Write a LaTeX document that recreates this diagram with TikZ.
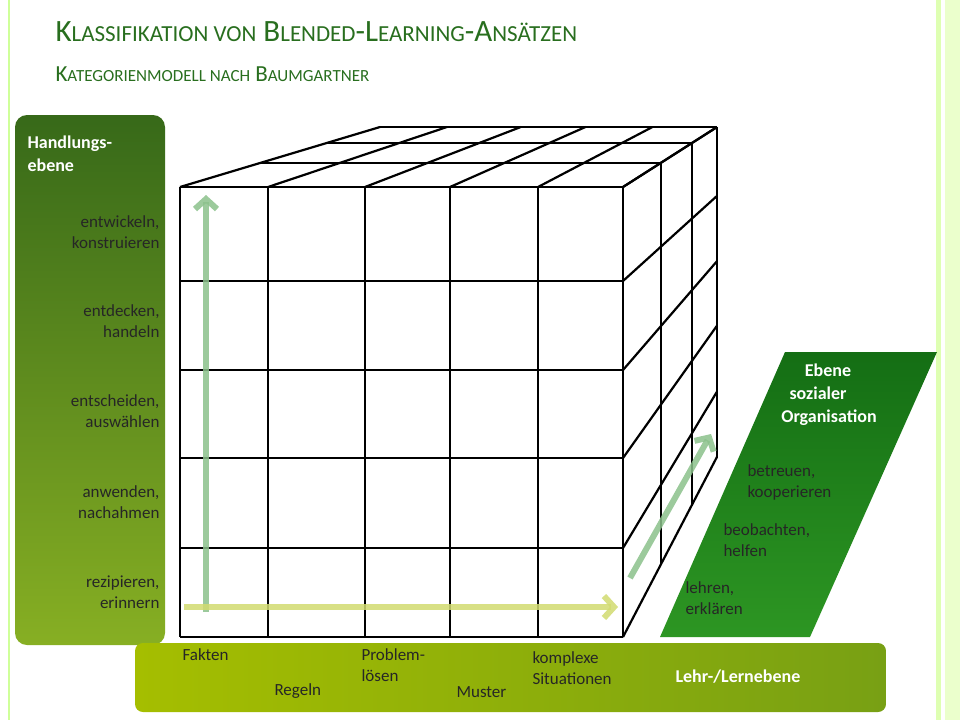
\documentclass[tikz,border=0pt]{standalone}
\usepackage{fontspec}
\setmainfont{Carlito}
\usetikzlibrary{calc,arrows.meta}
\definecolor{titlegreen}{RGB}{40,110,30}
\definecolor{bardark}{RGB}{55,105,25}
\definecolor{barlight}{RGB}{135,175,35}
\definecolor{limeA}{RGB}{165,190,0}
\definecolor{limeB}{RGB}{120,160,20}
\definecolor{orgdark}{RGB}{20,110,20}
\definecolor{orglight}{RGB}{45,150,35}
\newcommand{\smallcapsat}[2]{{\fontsize{#1}{#1}\selectfont #2}}

\begin{document}
\begin{tikzpicture}[x=1pt,y=-1pt, font=\fontsize{17}{21}\selectfont,
    gridline/.style={line width=2.2pt, black},
    levelbar/.style={rounded corners=12pt},
    axisarrow/.style={line width=6pt, -{Straight Barb[length=10pt,width=22pt,line width=6pt]}},
    lbl/.style={align=right, anchor=east, text=black!85},
    blbl/.style={align=left, anchor=north west, text=black!85},
    head/.style={font=\fontsize{18}{23}\selectfont\bfseries, text=white}]
  \useasboundingbox (0,0) rectangle (960,720);
  % frame stripes
  \fill[green!25!lime!30] (936,0) rectangle (941,720);
  \fill[green!20!lime!20] (945,0) rectangle (960,720);
  \draw[green!30!lime!40, line width=1.5pt] (9,0) -- (9,720);
  % title
  \node (title) [anchor=west, text=titlegreen, font=\fontsize{31}{34}\selectfont] at (52,32)
    {K\smallcapsat{23}{LASSIFIKATION VON} B\smallcapsat{23}{LENDED}-L\smallcapsat{23}{EARNING}-A\smallcapsat{23}{NSÄTZEN}};
  \node (subtitle) [anchor=west, text=titlegreen, font=\fontsize{23}{26}\selectfont] at (52,74)
    {K\smallcapsat{17}{ATEGORIENMODELL NACH} B\smallcapsat{17}{AUMGARTNER}};
  % level bars
  \shade[levelbar, top color=bardark, bottom color=barlight] (15,115) rectangle (165,645);
  \shade[levelbar, rounded corners=8pt, left color=limeA, right color=limeB] (135,643) rectangle (886,712);
  \shade[top color=orgdark, bottom color=orglight] (660,637) -- (810,637) -- (937,352) -- (785,352) -- cycle;
  % cube
  \foreach \x in {180,268,365,450,538,623} {
    \draw[gridline] (\x,187) -- (\x,637);
    \draw[gridline] (\x,187) -- ({380+(\x-180)*0.761},127);
  }
  \foreach \y in {187,281,370,458,548,637} {
    \draw[gridline] (180,\y) -- (623,\y);
    \draw[gridline] (623,\y) -- (717,{127+(\y-187)*0.733});
  }
  \coordinate (ftl) at (180,187);
  \coordinate (ftr) at (623,187);
  \coordinate (fbr) at (623,637);
  \coordinate (btl) at (380,127);
  \coordinate (btr) at (717,127);
  \coordinate (bbr) at (717,457);
  \foreach \d in {0.4,0.73,1} {
    \draw[gridline] ($(ftl)!\d!(btl)$) -- ($(ftr)!\d!(btr)$);
    \draw[gridline] ($(ftr)!\d!(btr)$) -- ($(fbr)!\d!(bbr)$);
  }
  % axes
  \coordinate (vstart) at (206,612);
  \coordinate (vend) at (206,195);
  \coordinate (hstart) at (184,607);
  \coordinate (hend) at (618,607);
  \coordinate (dstart) at (630,578);
  \coordinate (dend) at (711,434);
  \draw[axisarrow, draw=green!30!gray!70, opacity=0.85] (vstart) -- (vend);
  \draw[axisarrow, draw=lime!40!yellow!60!gray!70, opacity=0.85] (hstart) -- (hend);
  \draw[axisarrow, draw=green!30!gray!70, opacity=0.85] (dstart) -- (dend);
  % Handlungsebene
  \node (hhead) [head, anchor=north west, align=left] at (24,132) {Handlungs-\\ebene};
  \node (h5) [lbl] at (163,232) {entwickeln,\\konstruieren};
  \node (h4) [lbl] at (163,321) {entdecken,\\handeln};
  \node (h3) [lbl] at (163,411) {entscheiden,\\auswählen};
  \node (h2) [lbl] at (163,502) {anwenden,\\nachahmen};
  \node (h1) [lbl] at (163,592) {rezipieren,\\erinnern};
  % Lehr-/Lernebene
  \node (l1) [blbl] at (179,645) {Fakten};
  \node (l2) [blbl] at (271,680) {Regeln};
  \node (l3) [blbl] at (358,645) {Problem-\\lösen};
  \node (l4) [blbl] at (453,683) {Muster};
  \node (l5) [blbl] at (529,648) {komplexe\\Situationen};
  \node (lhead) [head, anchor=west] at (672,677) {Lehr-/Lernebene};
  % soziale Organisation
  \node (shead) [head, align=center, anchor=north] at (818,360) {\hspace*{20pt}Ebene\\sozialer\\\hspace*{22pt}Organisation};
  \node (s3) [blbl] at (744,461) {betreuen,\\kooperieren};
  \node (s2) [blbl] at (720,520) {beobachten,\\helfen};
  \node (s1) [blbl] at (682,578) {lehren,\\erklären};
\end{tikzpicture}
\end{document}
